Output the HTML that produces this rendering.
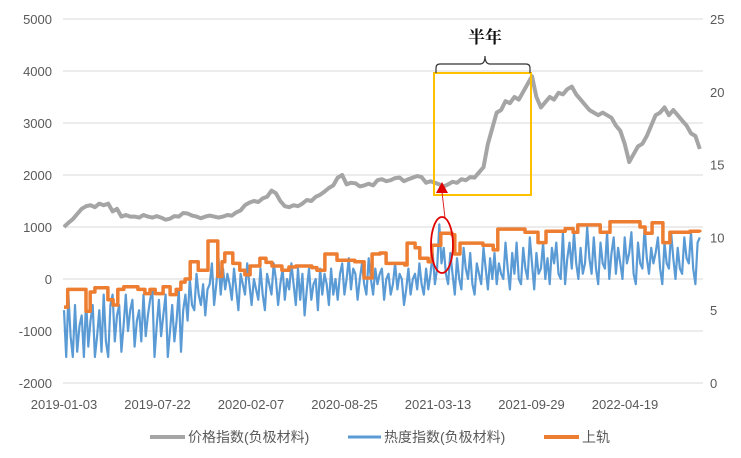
<!DOCTYPE html>
<html><head><meta charset="utf-8"><style>
body{margin:0;background:#fff;}
svg text{font-family:"Liberation Sans","Noto Sans CJK SC",sans-serif;fill:#595959;}
</style></head><body>
<svg id="chart" width="741" height="453" viewBox="0 0 741 453" xmlns="http://www.w3.org/2000/svg">
<g id="grid"></g><g id="series"></g><g id="axes"></g>
<g id="annot">
<rect x="434" y="73" width="97" height="122" fill="none" stroke="#FFC000" stroke-width="2"/>
<path d="M436,73 V68 Q436,64 440,64 H480 Q485,64 485,56 Q485,64 490,64 H526 Q530,64 530,68 V73" fill="none" stroke="#333" stroke-width="1.2"/>
<text x="485" y="43" text-anchor="middle" font-size="17" font-weight="bold" style="fill:#111;font-family:'Noto Serif CJK SC','Noto Sans CJK SC',serif">半年</text>
<line x1="442" y1="192" x2="445" y2="218" stroke="#e02020" stroke-width="1"/>
<polygon points="442,182 436,193 448,193" fill="#e00000"/>
<ellipse cx="442" cy="245" rx="11" ry="28" fill="none" stroke="#e00000" stroke-width="1.8"/>
</g>
<g id="legend">
<line x1="150" y1="437" x2="185" y2="437" stroke="#a5a5a5" stroke-width="4"/>
<text x="188" y="442" font-size="14">价格指数(负极材料)</text>
<line x1="348" y1="437" x2="381" y2="437" stroke="#5b9bd5" stroke-width="3"/>
<text x="384" y="442" font-size="14">热度指数(负极材料)</text>
<line x1="544" y1="437" x2="579" y2="437" stroke="#ed7d31" stroke-width="4"/>
<text x="582" y="442" font-size="14">上轨</text>
</g>
</svg>
<script>
const xTickLabels=["2019-01-03","2019-07-22","2020-02-07","2020-08-25","2021-03-13","2021-09-29","2022-04-19"];
const leftTicks=[-2000,-1000,0,1000,2000,3000,4000,5000];
const rightTicks=[0,5,10,15,20,25];
const totalDays=1360;
const priceValues=[1000,1080,1150,1250,1350,1400,1420,1380,1450,1420,1450,1300,1350,1200,1230,1200,1200,1180,1230,1200,1180,1210,1180,1140,1160,1210,1200,1270,1260,1220,1200,1170,1200,1220,1200,1180,1200,1230,1220,1280,1320,1420,1470,1500,1480,1550,1580,1700,1650,1500,1400,1380,1420,1400,1450,1520,1500,1580,1620,1680,1750,1800,1950,2000,1820,1850,1840,1780,1800,1830,1800,1900,1920,1880,1900,1940,1950,1880,1920,1950,1980,1960,1850,1880,1850,1820,1780,1820,1870,1850,1920,1900,1960,1950,2050,2150,2600,2900,3200,3250,3420,3380,3500,3450,3600,3750,3900,3500,3300,3400,3500,3450,3580,3550,3650,3700,3550,3450,3350,3250,3200,3150,3200,3150,3100,2950,2850,2600,2250,2400,2550,2600,2750,2950,3150,3200,3300,3150,3250,3150,3050,2950,2800,2750,2500];
const heatValues=[
-600,-1500,-300,-1100,-1500,-500,-1400,-900,-700,-1500,-400,-1300,-800,-500,-1500,-1100,-600,-1400,-300,-1200,-1500,-500,
-300,-1200,-700,-500,-1400,-900,-300,-1000,-600,-400,-1300,-800,-600,-1200,-300,-1100,-700,-400,
-200,-1500,-900,-400,-1100,-700,-300,-1500,-1000,-500,-1200,-800,-200,-1400,-600,-300,
-800,0,-500,-600,100,-300,-500,-100,-700,-200,-100,
300,-500,-100,400,-300,200,-200,100,-100,
-400,200,-200,-600,100,-100,-300,300,-100,-500,0,-200,-400,200,-300,-600,100,-100,-300,300,0,-500,-100,200,-400,0,-200,300,-100,-500,200,-400,
100,-700,-200,200,-400,-100,0,-600,200,-300,100,-100,-500,200,-300,0,-400,100,
300,-300,0,400,-200,200,100,-400,0,300,-100,-300,400,0,-300,200,-100,100,
200,-400,0,100,-300,-100,300,-200,100,0,-500,-200,200,-300,0,100,-200,300,-100,-300,200,-200,100,
500,-100,200,1050,300,600,100,
-100,500,100,-300,400,0,-200,600,200,0,500,-100,-300,300,100,-100,600,200,-200,400,0,500,-100,300,100,
0,700,200,-200,500,100,700,0,-100,600,200,0,800,300,-200,500,100,200,700,0,400,-100,600,300,700,100,0,
900,-100,400,700,200,900,300,0,600,100,300,1000,400,100,800,200,-100,700,300,200,900,0,500,800,100,600,300,
0,800,300,500,900,100,-100,700,300,200,1000,400,100,600,300,500,800,200,-100,700,300,200,900,400,0,600,200,100,800,400,300,900,200,-100,700,800];
const railDays=[0,8,47,56,66,94,105,115,128,158,173,184,195,212,227,240,250,259,270,287,308,329,338,344,361,376,387,398,419,432,445,466,481,496,530,541,558,569,584,622,642,659,676,689,729,734,751,761,779,787,800,806,830,836,847,896,918,928,986,1014,1031,1072,1089,1099,1147,1168,1232,1243,1258,1281,1296,1339,1360];
const railValues=[-540,-200,-620,-250,-170,-400,-500,-200,-150,-200,-280,-200,-280,-150,-300,-200,-60,0,330,170,730,50,330,500,300,170,80,250,400,320,250,170,230,250,220,170,480,480,360,330,20,480,500,300,270,690,600,400,330,650,650,880,850,480,690,650,560,960,900,700,920,970,900,1040,900,1100,1000,880,1080,700,900,920,900];

const X0=64, PL=63, PR=703;
const xs=d=>X0+d*0.4675;
const yL=v=>279-v*0.052;
const yR=v=>383-v*(364/25);
const NS="http://www.w3.org/2000/svg";
function mk(tag,attrs,parent){const e=document.createElementNS(NS,tag);for(const k in attrs)e.setAttribute(k,attrs[k]);parent.appendChild(e);return e;}
const grid=document.getElementById('grid'),axes=document.getElementById('axes'),ser=document.getElementById('series');
leftTicks.forEach(t=>{
 const g=mk('line',{x1:PL,x2:PR,y1:yL(t),y2:yL(t),stroke:'#d9d9d9','stroke-width':1},grid);
 
 
 const tx=mk('text',{x:52,y:yL(t)+5,'text-anchor':'end','font-size':13},axes);tx.textContent=t;
 
 
});
rightTicks.forEach(t=>{
 const tx=mk('text',{x:710,y:yR(t)+5,'font-size':13},axes);tx.textContent=t;
 
 
});
xTickLabels.forEach((l,i)=>{
 const tx=mk('text',{x:xs(i*200),y:409,'text-anchor':'middle','font-size':13},axes);tx.textContent=l;
 
 
});
let d=heatValues.map((v,i)=>(i?'L':'M')+xs(i*totalDays/(heatValues.length-1)).toFixed(1)+','+yL(v).toFixed(1)).join('');
const hp=mk('path',{d:d,fill:'none',stroke:'#5b9bd5','stroke-width':2.2,'stroke-linejoin':'round'},ser);


let rd='';
railDays.forEach((dd,i)=>{const x=xs(dd).toFixed(1),y=yL(railValues[i]).toFixed(1);
 if(i===0)rd+='M'+x+','+y;else rd+='H'+x+'V'+y;});
const rp=mk('path',{d:rd,fill:'none',stroke:'#ed7d31','stroke-width':3.5,'stroke-linejoin':'round'},ser);


d=priceValues.map((v,i)=>(i?'L':'M')+xs(i*totalDays/(priceValues.length-1)).toFixed(1)+','+yL(v).toFixed(1)).join('');
const pp=mk('path',{d:d,fill:'none',stroke:'#a5a5a5','stroke-width':4,'stroke-linejoin':'round'},ser);


</script>
</body></html>
